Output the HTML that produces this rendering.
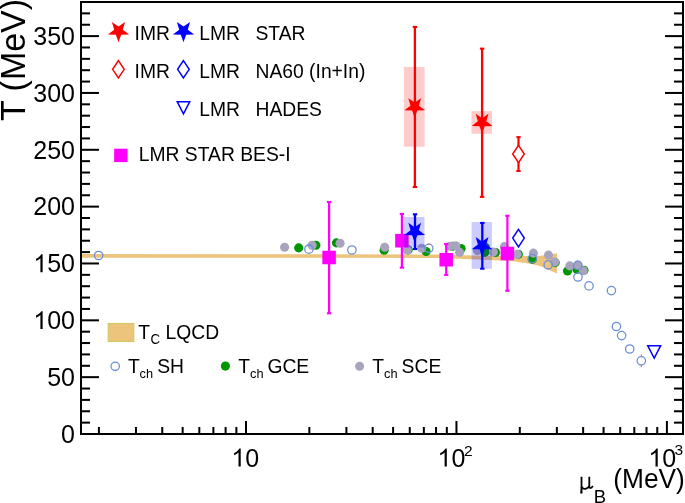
<!DOCTYPE html><html><head><meta charset="utf-8"><style>html,body{margin:0;padding:0;background:#fff;}svg{display:block;will-change:transform;}text{font-family:"Liberation Sans",sans-serif;fill:#000;}</style></head><body>
<svg width="685" height="503" viewBox="0 0 685 503">
<rect x="0" y="0" width="685" height="503" fill="#fff"/>
<polygon points="81.0,254.1 300.0,254.2 440.0,254.6 453.0,254.9 500.0,256.0 528.0,256.0 540.0,255.8 548.0,254.9 557.0,253.3 557.0,273.5 548.0,269.6 540.0,266.0 530.0,263.8 515.0,261.6 500.0,260.4 453.0,258.6 440.0,258.1 300.0,257.8 81.0,257.7" fill="#edc47c"/>
<circle cx="298.70" cy="247.90" r="4.55" fill="#009600"/>
<circle cx="315.90" cy="245.30" r="4.55" fill="#009600"/>
<circle cx="336.40" cy="242.90" r="4.55" fill="#009600"/>
<circle cx="384.10" cy="250.30" r="4.55" fill="#009600"/>
<circle cx="408.20" cy="249.90" r="4.55" fill="#009600"/>
<circle cx="426.10" cy="251.50" r="4.55" fill="#009600"/>
<circle cx="452.50" cy="246.20" r="4.55" fill="#009600"/>
<circle cx="461.10" cy="248.50" r="4.55" fill="#009600"/>
<circle cx="484.80" cy="252.40" r="4.55" fill="#009600"/>
<circle cx="485.40" cy="247.40" r="4.55" fill="#009600"/>
<circle cx="495.50" cy="252.50" r="4.55" fill="#009600"/>
<circle cx="518.30" cy="254.30" r="4.55" fill="#009600"/>
<circle cx="532.30" cy="259.40" r="4.55" fill="#009600"/>
<circle cx="555.20" cy="262.60" r="4.55" fill="#009600"/>
<circle cx="567.50" cy="271.00" r="4.55" fill="#009600"/>
<circle cx="576.90" cy="269.40" r="4.55" fill="#009600"/>
<circle cx="584.00" cy="270.30" r="4.55" fill="#009600"/>
<circle cx="284.60" cy="247.30" r="4.55" fill="#a8a4be"/>
<circle cx="312.10" cy="245.20" r="4.55" fill="#a8a4be"/>
<circle cx="340.10" cy="243.20" r="4.55" fill="#a8a4be"/>
<circle cx="384.70" cy="247.20" r="4.55" fill="#a8a4be"/>
<circle cx="407.30" cy="250.00" r="4.55" fill="#a8a4be"/>
<circle cx="421.70" cy="248.20" r="4.55" fill="#a8a4be"/>
<circle cx="449.90" cy="246.20" r="4.55" fill="#a8a4be"/>
<circle cx="455.90" cy="245.70" r="4.55" fill="#a8a4be"/>
<circle cx="459.60" cy="252.40" r="4.55" fill="#a8a4be"/>
<circle cx="477.40" cy="250.60" r="4.55" fill="#a8a4be"/>
<circle cx="493.40" cy="252.10" r="4.55" fill="#a8a4be"/>
<circle cx="504.40" cy="246.60" r="4.55" fill="#a8a4be"/>
<circle cx="517.10" cy="254.20" r="4.55" fill="#a8a4be"/>
<circle cx="533.40" cy="253.10" r="4.55" fill="#a8a4be"/>
<circle cx="548.50" cy="255.10" r="4.55" fill="#a8a4be"/>
<circle cx="554.60" cy="262.00" r="4.55" fill="#a8a4be"/>
<circle cx="569.80" cy="265.90" r="4.55" fill="#a8a4be"/>
<circle cx="577.80" cy="265.40" r="4.55" fill="#a8a4be"/>
<circle cx="583.20" cy="270.80" r="4.55" fill="#a8a4be"/>
<circle cx="98.60" cy="255.50" r="4.20" fill="none" stroke="#6b8fd6" stroke-width="1.28"/>
<circle cx="308.90" cy="249.20" r="4.20" fill="none" stroke="#6b8fd6" stroke-width="1.28"/>
<circle cx="351.90" cy="250.00" r="4.20" fill="none" stroke="#6b8fd6" stroke-width="1.28"/>
<circle cx="428.80" cy="248.30" r="4.20" fill="none" stroke="#6b8fd6" stroke-width="1.28"/>
<circle cx="532.30" cy="258.60" r="4.20" fill="none" stroke="#6b8fd6" stroke-width="1.28"/>
<circle cx="548.20" cy="264.80" r="4.20" fill="none" stroke="#6b8fd6" stroke-width="1.28"/>
<circle cx="577.80" cy="265.40" r="4.20" fill="none" stroke="#6b8fd6" stroke-width="1.28"/>
<circle cx="578.00" cy="277.00" r="4.20" fill="none" stroke="#6b8fd6" stroke-width="1.28"/>
<circle cx="589.00" cy="285.90" r="4.20" fill="none" stroke="#6b8fd6" stroke-width="1.28"/>
<circle cx="611.40" cy="290.60" r="4.20" fill="none" stroke="#6b8fd6" stroke-width="1.28"/>
<circle cx="616.40" cy="326.50" r="4.20" fill="none" stroke="#6b8fd6" stroke-width="1.28"/>
<circle cx="621.60" cy="335.60" r="4.20" fill="none" stroke="#6b8fd6" stroke-width="1.28"/>
<circle cx="629.70" cy="349.00" r="4.20" fill="none" stroke="#6b8fd6" stroke-width="1.28"/>
<circle cx="641.30" cy="360.80" r="4.20" fill="none" stroke="#6b8fd6" stroke-width="1.28"/>
<rect x="640.8" y="354.3" width="1" height="1.6" fill="#f44"/>
<rect x="640.8" y="365.7" width="1" height="1.6" fill="#f44"/>
<rect x="428.3" y="243.6" width="1" height="1.4" fill="#f66"/>
<rect x="328.00" y="202.00" width="2.20" height="111.30" fill="#ff00ff"/><rect x="326.95" y="200.95" width="4.30" height="2.10" fill="#ff00ff"/><rect x="326.95" y="312.25" width="4.30" height="2.10" fill="#ff00ff"/>
<rect x="322.35" y="250.75" width="13.50" height="13.50" fill="#ff00ff"/>
<rect x="400.80" y="214.00" width="2.20" height="53.60" fill="#ff00ff"/><rect x="399.75" y="212.95" width="4.30" height="2.10" fill="#ff00ff"/><rect x="399.75" y="266.55" width="4.30" height="2.10" fill="#ff00ff"/>
<rect x="395.15" y="233.95" width="13.50" height="13.50" fill="#ff00ff"/>
<rect x="445.10" y="244.10" width="2.20" height="30.80" fill="#ff00ff"/><rect x="444.05" y="243.05" width="4.30" height="2.10" fill="#ff00ff"/><rect x="444.05" y="273.85" width="4.30" height="2.10" fill="#ff00ff"/>
<rect x="439.45" y="252.95" width="13.50" height="13.50" fill="#ff00ff"/>
<rect x="506.30" y="215.80" width="2.20" height="75.00" fill="#ff00ff"/><rect x="505.25" y="214.75" width="4.30" height="2.10" fill="#ff00ff"/><rect x="505.25" y="289.75" width="4.30" height="2.10" fill="#ff00ff"/>
<rect x="500.65" y="246.75" width="13.50" height="13.50" fill="#ff00ff"/>
<rect x="403.9" y="67.0" width="20.7" height="79.8" fill="rgba(255,0,0,0.2)"/>
<rect x="471.5" y="111.1" width="20.5" height="22.7" fill="rgba(255,0,0,0.2)"/>
<rect x="403.8" y="217.0" width="20.7" height="30.6" fill="rgba(0,0,255,0.2)"/>
<rect x="471.6" y="222.0" width="20.3" height="46.8" fill="rgba(0,0,255,0.2)"/>
<rect x="413.75" y="26.95" width="2.30" height="160.05" fill="red"/><rect x="412.70" y="25.90" width="4.40" height="2.10" fill="red"/><rect x="412.70" y="185.95" width="4.40" height="2.10" fill="red"/>
<rect x="480.95" y="48.65" width="2.30" height="148.20" fill="red"/><rect x="479.90" y="47.60" width="4.40" height="2.10" fill="red"/><rect x="479.90" y="195.80" width="4.40" height="2.10" fill="red"/>
<rect x="413.85" y="214.30" width="2.30" height="34.70" fill="blue"/><rect x="412.80" y="213.25" width="4.40" height="2.10" fill="blue"/><rect x="412.80" y="247.95" width="4.40" height="2.10" fill="blue"/>
<rect x="481.15" y="222.90" width="2.30" height="45.80" fill="blue"/><rect x="480.10" y="221.85" width="4.40" height="2.10" fill="blue"/><rect x="480.10" y="267.65" width="4.40" height="2.10" fill="blue"/>
<polygon points="414.70,117.90 412.11,110.56 404.33,110.37 410.52,105.64 408.29,98.18 414.70,102.60 421.11,98.18 418.88,105.64 425.07,110.37 417.29,110.56" fill="red"/>
<polygon points="482.10,133.50 479.51,126.16 471.73,125.97 477.92,121.24 475.69,113.78 482.10,118.20 488.51,113.78 486.28,121.24 492.47,125.97 484.69,126.16" fill="red"/>
<polygon points="414.70,242.50 412.11,235.16 404.33,234.97 410.52,230.24 408.29,222.78 414.70,227.20 421.11,222.78 418.88,230.24 425.07,234.97 417.29,235.16" fill="blue"/>
<polygon points="482.10,256.70 479.51,249.36 471.73,249.17 477.92,244.44 475.69,236.98 482.10,241.40 488.51,236.98 486.28,244.44 492.47,249.17 484.69,249.36" fill="blue"/>
<rect x="517.40" y="137.10" width="2.20" height="33.90" fill="red"/><rect x="516.35" y="136.10" width="4.30" height="2.00" fill="red"/><rect x="516.35" y="170.00" width="4.30" height="2.00" fill="red"/>
<rect x="509" y="145" width="19" height="18" fill="#fff" fill-opacity="0"/>
<polygon points="518.5,145.3 524.3,154 518.5,162.7 512.7,154" fill="#fff"/>
<polygon points="518.50,145.30 524.30,154.00 518.50,162.70 512.70,154.00" fill="none" stroke="red" stroke-width="1.50"/>
<polygon points="518.50,229.40 524.30,238.10 518.50,246.80 512.70,238.10" fill="none" stroke="blue" stroke-width="1.50"/>
<polygon points="647.70,345.70 660.70,345.70 654.20,358.20" fill="none" stroke="blue" stroke-width="1.45" stroke-linejoin="miter"/>
<polygon points="118.50,42.30 115.85,34.74 107.85,34.56 114.22,29.71 111.92,22.04 118.50,26.60 125.08,22.04 122.78,29.71 129.15,34.56 121.15,34.74" fill="red"/>
<polygon points="183.50,42.30 180.85,34.74 172.85,34.56 179.22,29.71 176.92,22.04 183.50,26.60 190.08,22.04 187.78,29.71 194.15,34.56 186.15,34.74" fill="blue"/>
<polygon points="118.40,60.60 124.20,69.30 118.40,78.00 112.60,69.30" fill="none" stroke="red" stroke-width="1.50"/>
<polygon points="183.40,60.60 189.20,69.30 183.40,78.00 177.60,69.30" fill="none" stroke="blue" stroke-width="1.50"/>
<polygon points="177.15,101.70 189.75,101.70 183.45,113.90" fill="none" stroke="blue" stroke-width="1.45" stroke-linejoin="miter"/>
<rect x="114.15" y="148.70" width="13.40" height="13.40" fill="#ff00ff"/>
<text transform="translate(134.60,39.70) scale(1,1.035)" font-size="19.30" text-anchor="start" >IMR</text>
<text transform="translate(199.20,39.70) scale(1,1.035)" font-size="19.30" text-anchor="start" >LMR</text>
<text transform="translate(255.50,39.70) scale(1,1.035)" font-size="19.30" text-anchor="start" >STAR</text>
<text transform="translate(134.60,77.90) scale(1,1.035)" font-size="19.30" text-anchor="start" >IMR</text>
<text transform="translate(199.20,77.90) scale(1,1.035)" font-size="19.30" text-anchor="start" >LMR</text>
<text transform="translate(255.50,77.90) scale(1,1.035)" font-size="19.30" text-anchor="start" >NA60 (In+In)</text>
<text transform="translate(199.20,115.60) scale(1,1.035)" font-size="19.30" text-anchor="start" >LMR</text>
<text transform="translate(255.50,115.60) scale(1,1.035)" font-size="19.30" text-anchor="start" >HADES</text>
<text transform="translate(138.80,161.20) scale(1,1.035)" font-size="19.30" text-anchor="start" >LMR STAR BES-I</text>
<rect x="108.2" y="323.5" width="25.6" height="18" fill="#edc47c" stroke="#cfc865" stroke-width="1.1"/>
<text transform="translate(138.20,338.50) scale(1,1.035)" font-size="19.30" text-anchor="start" >T</text>
<text transform="translate(150.60,344.00) scale(1,1.035)" font-size="13.30" text-anchor="start" >C</text>
<text transform="translate(165.50,338.50) scale(1,1.035)" font-size="19.30" text-anchor="start" >LQCD</text>
<circle cx="115.20" cy="366.30" r="4.20" fill="none" stroke="#6b8fd6" stroke-width="1.28"/>
<text transform="translate(128.00,372.60) scale(1,1.035)" font-size="19.30" text-anchor="start" >T</text>
<text transform="translate(139.60,378.20) scale(1,1.035)" font-size="12.80" text-anchor="start" >ch</text>
<text transform="translate(157.20,372.60) scale(1,1.035)" font-size="19.30" text-anchor="start" >SH</text>
<circle cx="225.40" cy="366.10" r="4.60" fill="#009600"/>
<text transform="translate(238.30,372.60) scale(1,1.035)" font-size="19.30" text-anchor="start" >T</text>
<text transform="translate(250.10,378.20) scale(1,1.035)" font-size="12.80" text-anchor="start" >ch</text>
<text transform="translate(267.40,372.60) scale(1,1.035)" font-size="19.30" text-anchor="start" >GCE</text>
<circle cx="359.60" cy="366.30" r="4.50" fill="#a8a4be"/>
<text transform="translate(372.30,372.60) scale(1,1.035)" font-size="19.30" text-anchor="start" >T</text>
<text transform="translate(384.10,378.20) scale(1,1.035)" font-size="12.80" text-anchor="start" >ch</text>
<text transform="translate(401.60,372.60) scale(1,1.035)" font-size="19.30" text-anchor="start" >SCE</text>
<rect x="80" y="1" width="604" height="2" fill="#000"/>
<rect x="80" y="433" width="604" height="2" fill="#000"/>
<rect x="80" y="1" width="2" height="434" fill="#000"/>
<rect x="682" y="1" width="2" height="434" fill="#000"/>
<rect x="82" y="421.63" width="8" height="2" fill="#000"/>
<rect x="674" y="421.63" width="8" height="2" fill="#000"/>
<rect x="82" y="410.26" width="8" height="2" fill="#000"/>
<rect x="674" y="410.26" width="8" height="2" fill="#000"/>
<rect x="82" y="398.89" width="8" height="2" fill="#000"/>
<rect x="674" y="398.89" width="8" height="2" fill="#000"/>
<rect x="82" y="387.53" width="8" height="2" fill="#000"/>
<rect x="674" y="387.53" width="8" height="2" fill="#000"/>
<rect x="82" y="376.16" width="17" height="2" fill="#000"/>
<rect x="665" y="376.16" width="17" height="2" fill="#000"/>
<rect x="82" y="364.79" width="8" height="2" fill="#000"/>
<rect x="674" y="364.79" width="8" height="2" fill="#000"/>
<rect x="82" y="353.42" width="8" height="2" fill="#000"/>
<rect x="674" y="353.42" width="8" height="2" fill="#000"/>
<rect x="82" y="342.05" width="8" height="2" fill="#000"/>
<rect x="674" y="342.05" width="8" height="2" fill="#000"/>
<rect x="82" y="330.68" width="8" height="2" fill="#000"/>
<rect x="674" y="330.68" width="8" height="2" fill="#000"/>
<rect x="82" y="319.32" width="17" height="2" fill="#000"/>
<rect x="665" y="319.32" width="17" height="2" fill="#000"/>
<rect x="82" y="307.95" width="8" height="2" fill="#000"/>
<rect x="674" y="307.95" width="8" height="2" fill="#000"/>
<rect x="82" y="296.58" width="8" height="2" fill="#000"/>
<rect x="674" y="296.58" width="8" height="2" fill="#000"/>
<rect x="82" y="285.21" width="8" height="2" fill="#000"/>
<rect x="674" y="285.21" width="8" height="2" fill="#000"/>
<rect x="82" y="273.84" width="8" height="2" fill="#000"/>
<rect x="674" y="273.84" width="8" height="2" fill="#000"/>
<rect x="82" y="262.47" width="17" height="2" fill="#000"/>
<rect x="665" y="262.47" width="17" height="2" fill="#000"/>
<rect x="82" y="251.11" width="8" height="2" fill="#000"/>
<rect x="674" y="251.11" width="8" height="2" fill="#000"/>
<rect x="82" y="239.74" width="8" height="2" fill="#000"/>
<rect x="674" y="239.74" width="8" height="2" fill="#000"/>
<rect x="82" y="228.37" width="8" height="2" fill="#000"/>
<rect x="674" y="228.37" width="8" height="2" fill="#000"/>
<rect x="82" y="217.00" width="8" height="2" fill="#000"/>
<rect x="674" y="217.00" width="8" height="2" fill="#000"/>
<rect x="82" y="205.63" width="17" height="2" fill="#000"/>
<rect x="665" y="205.63" width="17" height="2" fill="#000"/>
<rect x="82" y="194.26" width="8" height="2" fill="#000"/>
<rect x="674" y="194.26" width="8" height="2" fill="#000"/>
<rect x="82" y="182.89" width="8" height="2" fill="#000"/>
<rect x="674" y="182.89" width="8" height="2" fill="#000"/>
<rect x="82" y="171.53" width="8" height="2" fill="#000"/>
<rect x="674" y="171.53" width="8" height="2" fill="#000"/>
<rect x="82" y="160.16" width="8" height="2" fill="#000"/>
<rect x="674" y="160.16" width="8" height="2" fill="#000"/>
<rect x="82" y="148.79" width="17" height="2" fill="#000"/>
<rect x="665" y="148.79" width="17" height="2" fill="#000"/>
<rect x="82" y="137.42" width="8" height="2" fill="#000"/>
<rect x="674" y="137.42" width="8" height="2" fill="#000"/>
<rect x="82" y="126.05" width="8" height="2" fill="#000"/>
<rect x="674" y="126.05" width="8" height="2" fill="#000"/>
<rect x="82" y="114.68" width="8" height="2" fill="#000"/>
<rect x="674" y="114.68" width="8" height="2" fill="#000"/>
<rect x="82" y="103.32" width="8" height="2" fill="#000"/>
<rect x="674" y="103.32" width="8" height="2" fill="#000"/>
<rect x="82" y="91.95" width="17" height="2" fill="#000"/>
<rect x="665" y="91.95" width="17" height="2" fill="#000"/>
<rect x="82" y="80.58" width="8" height="2" fill="#000"/>
<rect x="674" y="80.58" width="8" height="2" fill="#000"/>
<rect x="82" y="69.21" width="8" height="2" fill="#000"/>
<rect x="674" y="69.21" width="8" height="2" fill="#000"/>
<rect x="82" y="57.84" width="8" height="2" fill="#000"/>
<rect x="674" y="57.84" width="8" height="2" fill="#000"/>
<rect x="82" y="46.47" width="8" height="2" fill="#000"/>
<rect x="674" y="46.47" width="8" height="2" fill="#000"/>
<rect x="82" y="35.11" width="17" height="2" fill="#000"/>
<rect x="665" y="35.11" width="17" height="2" fill="#000"/>
<rect x="82" y="23.74" width="8" height="2" fill="#000"/>
<rect x="674" y="23.74" width="8" height="2" fill="#000"/>
<rect x="82" y="12.37" width="8" height="2" fill="#000"/>
<rect x="674" y="12.37" width="8" height="2" fill="#000"/>
<text x="61.100" y="442.750" font-size="25.00">0</text>
<text x="47.200" y="385.908" font-size="25.00">5</text><text x="61.100" y="385.908" font-size="25.00">0</text>
<path transform="translate(33.300,329.066) scale(0.01221,-0.01221)" d="M763,0 L583,0 L583,1147 Q518,1085 415,1024.5 Q312,964 223,931 L223,1105 Q375,1176 486.5,1275 Q598,1374 653,1466 L763,1466 Z" fill="#000"/><text x="47.200" y="329.066" font-size="25.00">0</text><text x="61.100" y="329.066" font-size="25.00">0</text>
<path transform="translate(33.300,272.224) scale(0.01221,-0.01221)" d="M763,0 L583,0 L583,1147 Q518,1085 415,1024.5 Q312,964 223,931 L223,1105 Q375,1176 486.5,1275 Q598,1374 653,1466 L763,1466 Z" fill="#000"/><text x="47.200" y="272.224" font-size="25.00">5</text><text x="61.100" y="272.224" font-size="25.00">0</text>
<text x="33.300" y="215.382" font-size="25.00">2</text><text x="47.200" y="215.382" font-size="25.00">0</text><text x="61.100" y="215.382" font-size="25.00">0</text>
<text x="33.300" y="158.539" font-size="25.00">2</text><text x="47.200" y="158.539" font-size="25.00">5</text><text x="61.100" y="158.539" font-size="25.00">0</text>
<text x="33.300" y="101.697" font-size="25.00">3</text><text x="47.200" y="101.697" font-size="25.00">0</text><text x="61.100" y="101.697" font-size="25.00">0</text>
<text x="33.300" y="44.855" font-size="25.00">3</text><text x="47.200" y="44.855" font-size="25.00">5</text><text x="61.100" y="44.855" font-size="25.00">0</text>
<rect x="97.90" y="427" width="2" height="6" fill="#000"/>
<rect x="134.96" y="427" width="2" height="6" fill="#000"/>
<rect x="161.25" y="427" width="2" height="6" fill="#000"/>
<rect x="181.65" y="427" width="2" height="6" fill="#000"/>
<rect x="198.31" y="427" width="2" height="6" fill="#000"/>
<rect x="212.40" y="427" width="2" height="6" fill="#000"/>
<rect x="224.61" y="427" width="2" height="6" fill="#000"/>
<rect x="235.37" y="427" width="2" height="6" fill="#000"/>
<rect x="245.00" y="421" width="2" height="12" fill="#000"/>
<rect x="308.35" y="427" width="2" height="6" fill="#000"/>
<rect x="345.41" y="427" width="2" height="6" fill="#000"/>
<rect x="371.70" y="427" width="2" height="6" fill="#000"/>
<rect x="392.10" y="427" width="2" height="6" fill="#000"/>
<rect x="408.76" y="427" width="2" height="6" fill="#000"/>
<rect x="422.85" y="427" width="2" height="6" fill="#000"/>
<rect x="435.06" y="427" width="2" height="6" fill="#000"/>
<rect x="445.82" y="427" width="2" height="6" fill="#000"/>
<rect x="455.45" y="421" width="2" height="12" fill="#000"/>
<rect x="518.80" y="427" width="2" height="6" fill="#000"/>
<rect x="555.86" y="427" width="2" height="6" fill="#000"/>
<rect x="582.15" y="427" width="2" height="6" fill="#000"/>
<rect x="602.55" y="427" width="2" height="6" fill="#000"/>
<rect x="619.21" y="427" width="2" height="6" fill="#000"/>
<rect x="633.30" y="427" width="2" height="6" fill="#000"/>
<rect x="645.51" y="427" width="2" height="6" fill="#000"/>
<rect x="656.27" y="427" width="2" height="6" fill="#000"/>
<rect x="665.90" y="421" width="2" height="12" fill="#000"/>
<path transform="translate(231.400,466.500) scale(0.01221,-0.01221)" d="M763,0 L583,0 L583,1147 Q518,1085 415,1024.5 Q312,964 223,931 L223,1105 Q375,1176 486.5,1275 Q598,1374 653,1466 L763,1466 Z" fill="#000"/><text x="245.300" y="466.500" font-size="25.00">0</text>
<path transform="translate(437.500,466.500) scale(0.01221,-0.01221)" d="M763,0 L583,0 L583,1147 Q518,1085 415,1024.5 Q312,964 223,931 L223,1105 Q375,1176 486.5,1275 Q598,1374 653,1466 L763,1466 Z" fill="#000"/><text x="451.400" y="466.500" font-size="25.00">0</text>
<text x="464.0" y="455.8" font-size="15.5">2</text>
<path transform="translate(648.400,466.500) scale(0.01221,-0.01221)" d="M763,0 L583,0 L583,1147 Q518,1085 415,1024.5 Q312,964 223,931 L223,1105 Q375,1176 486.5,1275 Q598,1374 653,1466 L763,1466 Z" fill="#000"/><text x="662.300" y="466.500" font-size="25.00">0</text>
<text x="674.6" y="454.8" font-size="15.5">3</text>
<text transform="translate(25,121) rotate(-90) scale(1,1.03)" font-size="34">T (MeV)</text>
<path d="M581.5,476.8 V487.5 M581.5,485.6 C581.7,488.2 583.2,489.0 585.2,488.8 C587.4,488.5 589.3,487 589.3,484.5 M589.3,476.8 V486.3 C589.3,488.4 591,489 592.9,486" stroke="#000" stroke-width="1.8" fill="none"/>
<path d="M580.6,487 L580.2,493.6 L582.5,493.6 L582.4,487 Z" fill="#000"/>
<text x="593.7" y="502.5" font-size="18.5">B</text>
<text transform="translate(684.8,488.3) scale(1,1.03)" font-size="26.3" text-anchor="end">(MeV)</text>
</svg></body></html>
